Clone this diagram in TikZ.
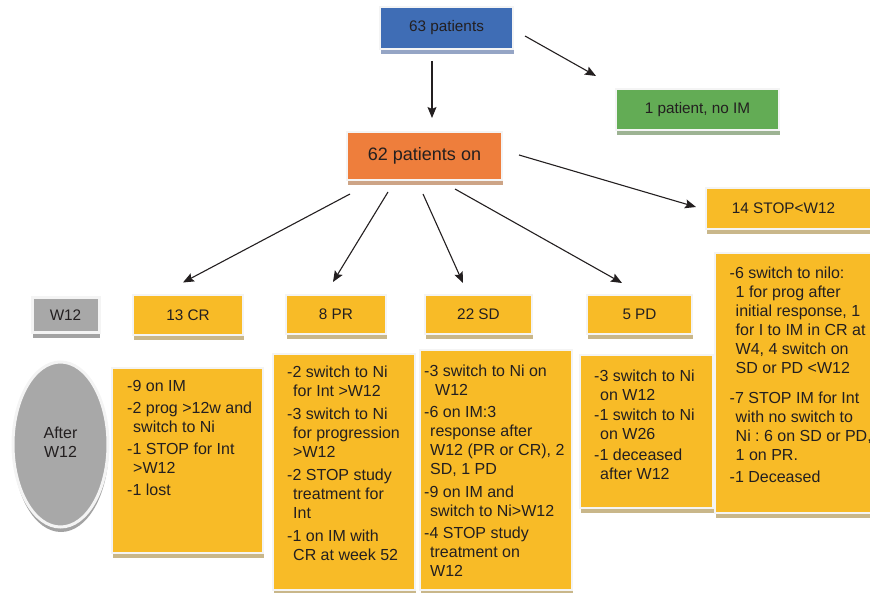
\documentclass[tikz,border=0pt]{standalone}
\usepackage{fontspec}
\setmainfont{Liberation Sans}
\usetikzlibrary{arrows.meta,calc,shadows,shapes.geometric}
\definecolor{cblue}{HTML}{3F6DB5}
\definecolor{cblueS}{HTML}{95A5C5}
\definecolor{cgreen}{HTML}{63AC55}
\definecolor{cgreenS}{HTML}{9DB393}
\definecolor{corange}{HTML}{EE7E3C}
\definecolor{corangeS}{HTML}{CDA486}
\definecolor{cgold}{HTML}{F8BB27}
\definecolor{cgoldS}{HTML}{C9B78A}
\definecolor{cgray}{HTML}{A8A8A8}
\definecolor{cgrayS}{HTML}{A3A3A3}
\definecolor{ctext}{HTML}{231F20}
\definecolor{cedge}{HTML}{F4F4F4}
\newcommand{\myind}{\hspace*{6pt}}
\frenchspacing
\begin{document}
\begin{tikzpicture}[x=1pt,y=-1pt,
  boxbase/.style={rectangle, inner sep=0pt, draw=cedge, line width=2pt, text=ctext,
    font=\fontsize{15.3}{18}\selectfont},
  shadowed/.style={drop shadow={fill=#1, opacity=1, shadow xshift=0.5pt, shadow yshift=-5pt}},
  bluebox/.style={boxbase, fill=cblue, shadowed=cblueS},
  greenbox/.style={boxbase, fill=cgreen, shadowed=cgreenS},
  orangebox/.style={boxbase, fill=corange, shadowed=corangeS, font=\fontsize{18}{21}\selectfont},
  goldbox/.style={boxbase, fill=cgold, shadowed=cgoldS},
  graybox/.style={boxbase, fill=cgray, shadowed=cgrayS, line width=3pt},
  txt/.style={inner sep=0pt, align=left, anchor=north west, text=ctext,
    font=\fontsize{16}{19}\selectfont\frenchspacing},
  arr/.style={draw=ctext, line width=1.1pt, -{Stealth[length=11pt,width=9pt,inset=2pt]}}
]
\path[use as bounding box, clip] (0,0) rectangle (870,593);

% top boxes
\node[bluebox, minimum width=133pt, minimum height=42pt] (n63) at (446.5,28) {63 patients};
\node[greenbox, minimum width=163pt, minimum height=41pt] (n1) at (697.5,109.5) {1 patient, no IM};
\node[orangebox, minimum width=155pt, minimum height=48pt] (n62) at (424.5,156) {62 patients on};
\node[goldbox, minimum width=174pt, minimum height=41pt] (n14) at (793,208.5) {\hspace*{-19pt}14 STOP<W12};

% row of categories
\node[graybox, minimum width=67pt, minimum height=35pt] (w12) at (65.5,315.5) {W12};
\node[goldbox, minimum width=110pt, minimum height=40pt] (cr) at (188,315) {13 CR};
\node[goldbox, minimum width=100pt, minimum height=39pt] (pr) at (336,314.5) {8 PR};
\node[goldbox, minimum width=107pt, minimum height=39pt] (sd) at (478.5,314.5) {22 SD};
\node[goldbox, minimum width=105pt, minimum height=39pt] (pd) at (639.5,314.5) {5 PD};

% lower boxes
\node[ellipse, inner sep=0pt, draw=cedge, line width=3pt, fill=cgray, shadowed=cgrayS,
  minimum width=95pt, minimum height=165pt, text=ctext,
  font=\fontsize{16}{18.7}\selectfont] (after) at (60.5,444.5)
  {\raisebox{3pt}{\begin{tabular}{@{}c@{}}After\\W12\end{tabular}}};
\node[goldbox, minimum width=151pt, minimum height=185pt] (crb) at (187.5,460.5) {};
\node[goldbox, minimum width=142pt, minimum height=236pt] (prb) at (344,472) {};
\node[goldbox, minimum width=152pt, minimum height=240pt] (sdb) at (496,470) {};
\node[goldbox, minimum width=133pt, minimum height=153pt] (pdb) at (646.5,431.5) {};
\node[goldbox, minimum width=165pt, minimum height=260pt] (stb) at (797.5,383) {};

\node[txt] (crt) at (127,380.4) {-9 on IM\\[3pt]
-2 prog >12w and\\ \myind switch to Ni\\[3pt]
-1 STOP for Int\\ \myind >W12\\[3pt]
-1 lost};

\node[txt] (prt) at (287,365.5) {-2 switch to Ni\\ \myind for Int >W12\\[4pt]
-3 switch to Ni\\ \myind for progression\\ \myind >W12\\[4pt]
-2 STOP study\\ \myind treatment for\\ \myind Int\\[4pt]
-1 on IM with\\ \myind CR at week 52};

\node[txt] (sdt) at (424,364.5) {-3 switch to Ni on\\ \hspace*{11pt}W12\\[3.5pt]
-6 on IM:3\\ \myind response after\\ \myind W12 (PR or CR), 2\\ \myind SD, 1 PD\\[3.5pt]
-9 on IM and\\ \myind switch to Ni>W12\\[3.5pt]
-4 STOP study\\ \myind treatment on\\ \myind W12};

\node[txt] (pdt) at (594,369.5) {-3 switch to Ni\\ \myind on W12\\[1.5pt]
-1 switch to Ni\\ \myind on W26\\[1.5pt]
-1 deceased\\ \myind after W12};

\node[txt] (stt) at (729.5,266.5) {-6 switch to nilo:\\ \myind 1 for prog after\\ \myind initial response, 1\\
\myind for I to IM in CR at\\ \myind W4, 4 switch on\\ \myind SD or PD <W12\\[11.5pt]
-7 STOP IM for Int\\ \myind with no switch to\\ \myind Ni : 6 on SD or PD,\\ \myind 1 on PR.\\[3pt]
-1 Deceased};

% connectors
\draw[arr] ([xshift=-14.5pt,yshift=-11pt]n63.south) -- ([xshift=7.5pt,yshift=13pt]n62.north);
\draw[arr] ([xshift=11pt,yshift=-8pt]n63.east) -- ([xshift=-19pt,yshift=12pt]n1.north west);
\draw[arr] ([xshift=16pt,yshift=1pt]n62.east) -- ([xshift=-9pt,yshift=1.5pt]n14.west);
\draw[arr] ([xshift=4pt,yshift=-13pt]n62.south west) -- ([xshift=-5pt,yshift=11.5pt]cr.north);
\draw[arr] ([xshift=-36.5pt,yshift=-11pt]n62.south) -- ([xshift=-3pt,yshift=12pt]pr.north);
\draw[arr] ([xshift=-1.5pt,yshift=-13pt]n62.south) -- ([xshift=-15.5pt,yshift=11pt]sd.north);
\draw[arr] ([xshift=30.5pt,yshift=-8pt]n62.south) -- ([xshift=-17.5pt,yshift=11pt]pd.north);
\end{tikzpicture}
\end{document}
